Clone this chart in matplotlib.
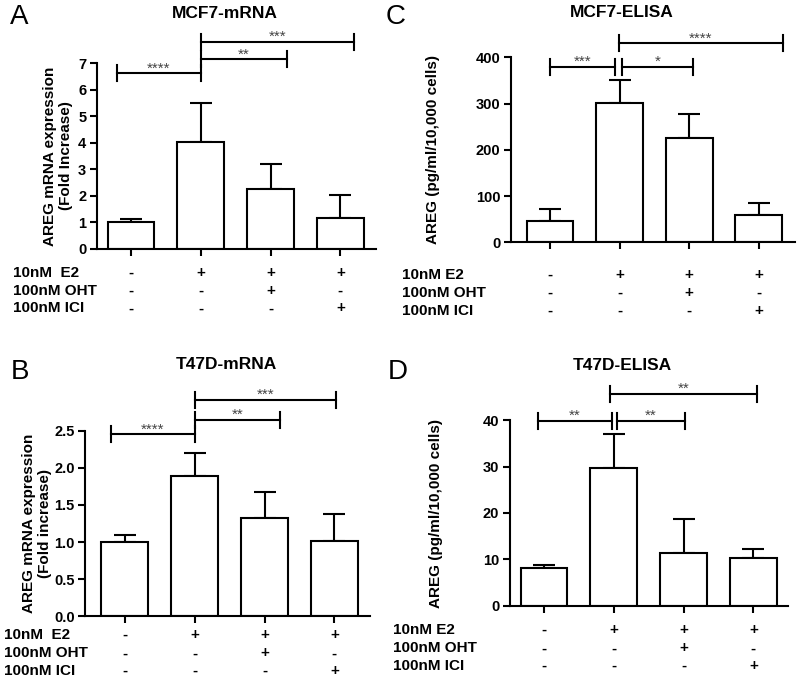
import matplotlib
matplotlib.use('Agg')
import matplotlib.pyplot as plt
from matplotlib.transforms import blended_transform_factory

plt.rcParams['font.family'] = ['Liberation Sans', 'DejaVu Sans']

# treatments under each bar
e2_signs = ['-', '+', '+', '+']
oht_signs = ['-', '-', '+', '-']
ici_signs = ['-', '-', '-', '+']

# A - MCF7 mRNA
mcf7_mrna = [1.0, 4.03, 2.27, 1.15]
mcf7_mrna_sem = [0.12, 1.47, 0.93, 0.88]
mcf7_mrna_sig = [(-0.2, 1.0, 6.62, '****'), (1.0, 2.23, 7.15, '**'), (1.0, 3.19, 7.81, '***')]

# B - T47D mRNA
t47d_mrna = [1.0, 1.89, 1.33, 1.01]
t47d_mrna_sem = [0.10, 0.31, 0.35, 0.37]
t47d_mrna_sig = [(-0.2, 1.0, 2.45, '****'), (1.0, 2.22, 2.65, '**'), (1.0, 3.02, 2.915, '***')]

# C - MCF7 ELISA
mcf7_elisa = [45, 302, 226, 59]
mcf7_elisa_sem = [28, 50, 52, 27]
mcf7_elisa_sig = [(0.0, 0.93, 380, '***'), (1.04, 2.05, 380, '*'), (0.99, 3.35, 430, '****')]

# D - T47D ELISA
t47d_elisa = [8.2, 29.8, 11.4, 10.2]
t47d_elisa_sem = [0.6, 7.2, 7.2, 2.1]
t47d_elisa_sig = [(-0.08, 0.97, 39.9, '**'), (1.04, 2.02, 39.9, '**'), (0.94, 3.05, 45.7, '**')]

W, H = 800, 681
fig = plt.figure(figsize=(W / 100, H / 100), dpi=100)


def fx(x):
    return x / W


def fy(y):
    return 1 - y / H


def draw_panel(letter, letter_pos, title, title_pos, ylabel, ylabel_pos, box,
               xlim, ylim, yticks, yfmt, means, sems, sigs, rows, row_x, row_ys):
    left, top, right, bottom = box
    ax = fig.add_axes([fx(left), fy(bottom), (right - left) / W, (bottom - top) / H])
    x = list(range(len(means)))
    ax.bar(x, means, width=0.67, color='white', edgecolor='black', linewidth=1.5,
           zorder=2)
    ax.errorbar(x, means, yerr=[[0] * len(sems), sems], fmt='none', ecolor='black',
                elinewidth=1.5, capsize=8, capthick=1.5, zorder=1)
    ax.set_xlim(xlim)
    ax.set_ylim(ylim)
    ax.set_yticks(yticks)
    ax.set_yticklabels([yfmt.format(t) for t in yticks], fontsize=10.5, fontweight='bold')
    ax.set_xticks(x)
    ax.set_xticklabels([])
    ax.tick_params(axis='both', direction='out', length=5, width=1.5, pad=2.5)
    for s in ['top', 'right']:
        ax.spines[s].set_visible(False)
    for s in ['left', 'bottom']:
        ax.spines[s].set_linewidth(1.5)

    # significance brackets
    tick_h = ylim[1] * 0.043
    for x1, x2, y, lab in sigs:
        ax.plot([x1, x2], [y, y], color='black', lw=1.5, clip_on=False)
        ax.plot([x1, x1], [y - tick_h, y + tick_h], color='black', lw=1.5, clip_on=False)
        ax.plot([x2, x2], [y - tick_h, y + tick_h], color='black', lw=1.5, clip_on=False)
        ax.annotate(lab, xy=((x1 + x2) / 2, y), xytext=(0, -1.5), textcoords='offset points',
                    ha='center', va='bottom', fontsize=11, color='#444444',
                    annotation_clip=False)

    fig.text(fx(letter_pos[0]), fy(letter_pos[1]), letter, fontsize=20,
             ha='left', va='center')
    fig.text(fx(title_pos[0]), fy(title_pos[1]), title, fontsize=12.5,
             fontweight='bold', ha='center', va='center')
    fig.text(fx(ylabel_pos[0]), fy(ylabel_pos[1]), ylabel, fontsize=11,
             fontweight='bold', rotation=90, ha='center', va='center',
             multialignment='center', linespacing=1.1)

    # treatment table
    trans = blended_transform_factory(ax.transData, fig.transFigure)
    for lab, signs, ry in zip(rows, [e2_signs, oht_signs, ici_signs], row_ys):
        fig.text(fx(row_x), fy(ry), lab, fontsize=11, fontweight='bold',
                 ha='left', va='center')
        for xi, sg in zip(x, signs):
            ax.text(xi, fy(ry), sg, transform=trans, fontsize=11,
                    fontweight='bold', ha='center', va='center')
    return ax


draw_panel('A', (10, 17), 'MCF7-mRNA', (225, 13),
           'AREG mRNA expression\n(Fold Increase)', (58, 156),
           (96.7, 63.3, 376, 248.7), (-0.49, 3.51), (0, 7), list(range(0, 8)), '{:d}',
           mcf7_mrna, mcf7_mrna_sem, mcf7_mrna_sig,
           ['10nM  E2', '100nM OHT', '100nM ICI'], 12.7, [272.7, 290.7, 308.3])

draw_panel('B', (11, 372), 'T47D-mRNA', (226, 365),
           'AREG mRNA expression\n(Fold increase)', (37, 523),
           (85, 430.7, 370, 616.3), (-0.57, 3.51), (0, 2.5), [0, 0.5, 1.0, 1.5, 2.0, 2.5], '{:.1f}',
           t47d_mrna, t47d_mrna_sem, t47d_mrna_sig,
           ['10nM  E2', '100nM OHT', '100nM ICI'], 4, [635, 653.3, 671])

draw_panel('C', (386, 17), 'MCF7-ELISA', (622, 12.5),
           'AREG (pg/ml/10,000 cells)', (433, 150),
           (511, 57.3, 795, 242.3), (-0.56, 3.52), (0, 400), [0, 100, 200, 300, 400], '{:d}',
           mcf7_elisa, mcf7_elisa_sem, mcf7_elisa_sig,
           ['10nM E2', '100nM OHT', '100nM ICI'], 401.7, [275, 292.7, 310.7])

draw_panel('D', (388, 372), 'T47D-ELISA', (622, 366),
           'AREG (pg/ml/10,000 cells)', (436, 513),
           (509.7, 420.3, 788.3, 605.7), (-0.49, 3.5), (0, 40), [0, 10, 20, 30, 40], '{:d}',
           t47d_elisa, t47d_elisa_sem, t47d_elisa_sig,
           ['10nM E2', '100nM OHT', '100nM ICI'], 393, [630, 648.3, 666])

fig.savefig('out.png', dpi=100)
